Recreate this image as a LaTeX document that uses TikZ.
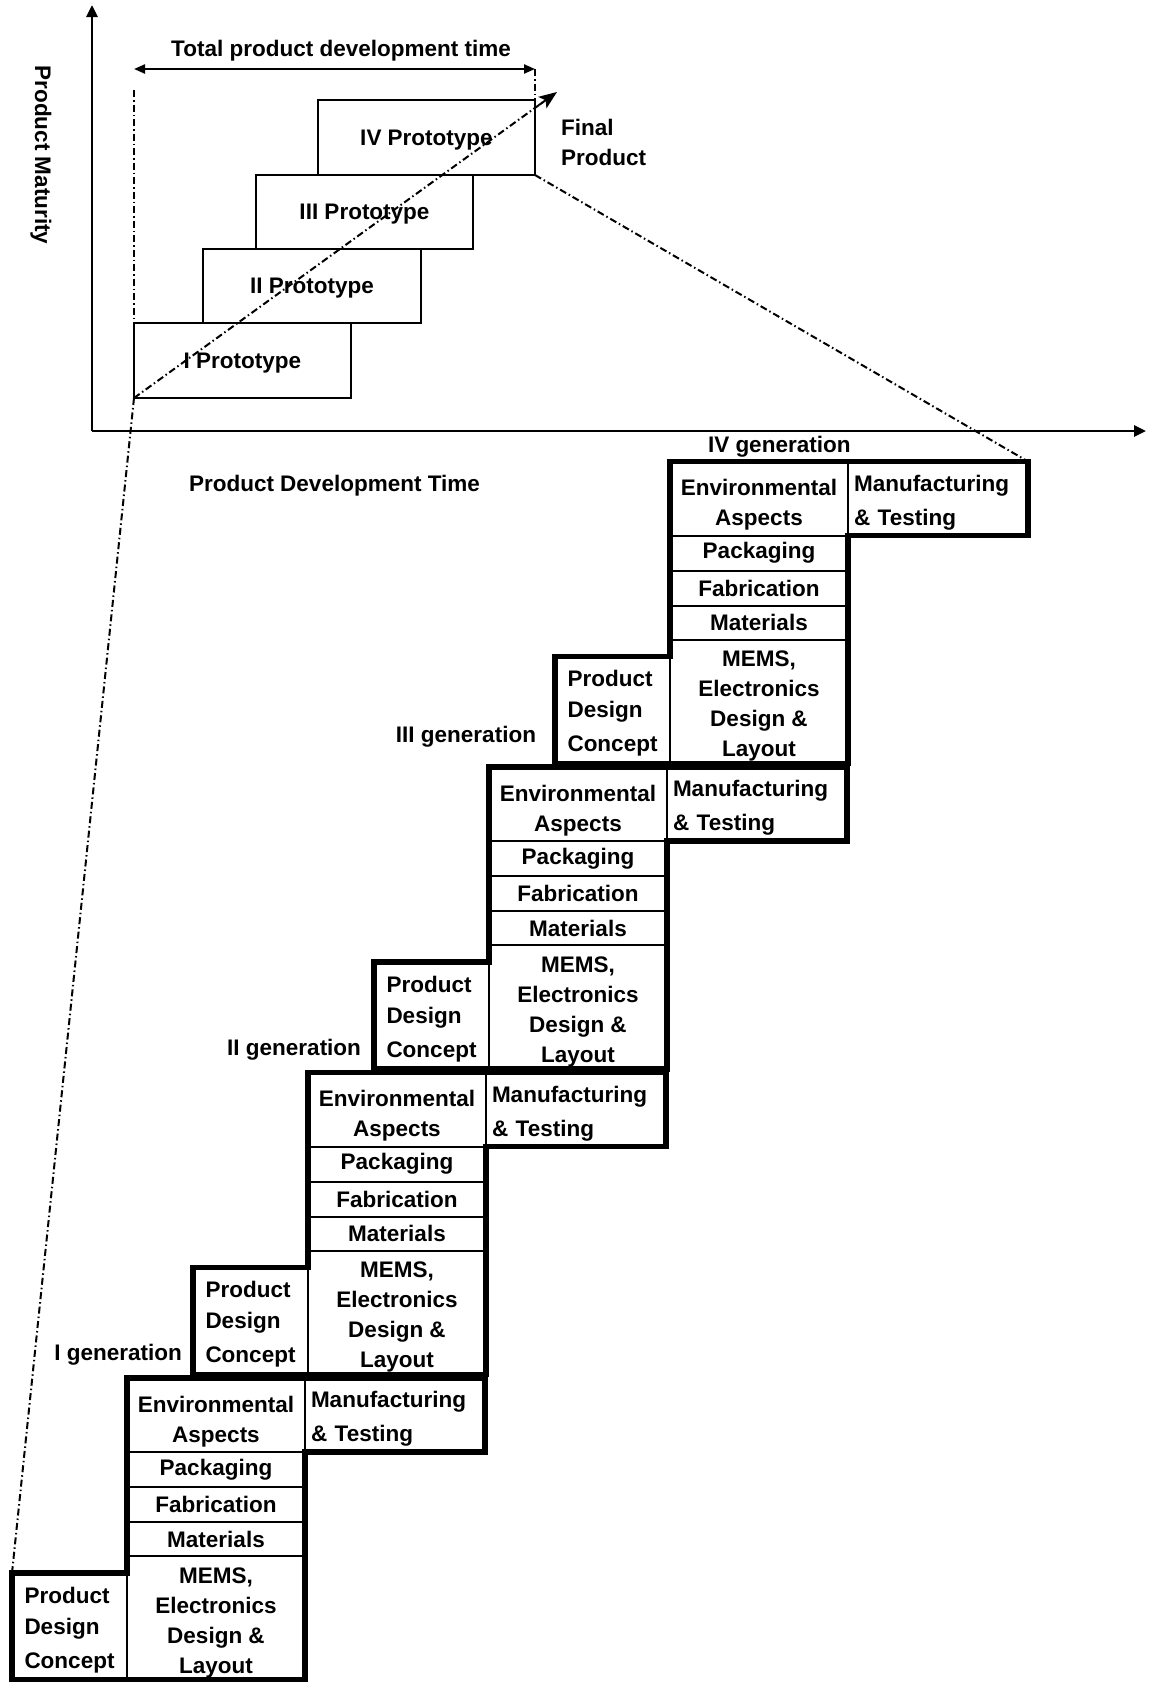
\documentclass[tikz,border=0pt]{standalone}
\usepackage{fontspec}
\setmainfont{Liberation Sans}
\usetikzlibrary{arrows.meta,calc}
% invisible struts used to nudge multi-line cell text up or down
\newcommand{\topstrutx}[1]{\rule{0pt}{#1}}
\newcommand{\botstrutx}[1]{\rule[-#1]{0pt}{#1}}

\begin{document}
\begin{tikzpicture}[x=1pt,y=-1pt,
  every node/.style={inner sep=0pt, outer sep=0pt, font=\fontsize{22.5}{27}\selectfont\bfseries},
  cell/.style={draw, line width=2pt, rectangle, anchor=north west, minimum width=178pt, align=center},
  envcell/.style={cell, minimum height=74pt, font=\fontsize{22.5}{30}\selectfont\bfseries},
  mfgcell/.style={cell, minimum width=180pt, minimum height=74pt, align=left, text width=168pt,
    inner xsep=6pt, font=\fontsize{22.5}{34}\selectfont\bfseries},
  memscell/.style={cell, minimum height=124pt, font=\fontsize{22.5}{30}\selectfont\bfseries},
  pdccell/.style={cell, anchor=north east, minimum width=115pt, minimum height=107pt, align=left,
    font=\fontsize{22.5}{31}\selectfont\bfseries},
  outline/.style={line width=5.5pt, line join=miter},
  proto/.style={draw, line width=2.5pt, rectangle, anchor=north west, text depth=0pt},
  axis/.style={line width=2.8pt},
  dashdot/.style={line width=2pt, dash pattern=on 7pt off 3pt on 1.5pt off 3pt},
  genlabel/.style={}
]
\useasboundingbox (0,0) rectangle (1152,1682);
\fill[white] (0,0) rectangle (1152,1682);

% ---------- staircase of development generations ----------
\foreach \k in {0,1,2,3}{
  \pgfmathsetmacro{\xc}{127+181*\k}
  \pgfmathsetmacro{\yt}{1378-305.5*\k}
  \node[envcell] (env\k) at (\xc,\yt) {\topstrutx{28.7pt}Environmental\\Aspects};
  \node[cell, minimum height=35pt] (pack\k) at (\xc,\yt+74) {Packaging};
  \node[cell, minimum height=35pt] (fab\k) at (\xc,\yt+109) {Fabrication};
  \node[cell, minimum height=34pt] (mat\k) at (\xc,\yt+144) {Materials};
  \node[memscell] (mems\k) at (\xc,\yt+178) {\topstrutx{24.7pt}MEMS,\\Electronics\\Design \&\\Layout};
  \node[mfgcell] (mfg\k) at (\xc+178,\yt) {\topstrutx{24.7pt}Manufacturing\\\& Testing};
  \node[pdccell] (pdc\k) at (\xc,\yt+195) {\topstrutx{22.7pt}Product\\Design\\[3pt]Concept};
  \draw[outline] (pdc\k.south west) -- (pdc\k.north west) -- (pdc\k.north east)
    -- (env\k.north west) -- (mfg\k.north east) -- (mfg\k.south east)
    -- (mfg\k.south west) -- (mems\k.south east) -- cycle;
}

\node[genlabel, anchor=base east] (gen1) at ([xshift=-11pt,yshift=14.5pt]pdc1.south west) {I generation};
\node[genlabel, anchor=base east] (gen2) at ([xshift=-13pt,yshift=14pt]pdc2.south west) {II generation};
\node[genlabel, anchor=base east] (gen3) at ([xshift=-19pt,yshift=21.5pt]pdc3.south west) {III generation};
\node[genlabel, anchor=base west] (gen4) at ([xshift=38pt,yshift=9.5pt]env3.north west) {IV generation};

% ---------- maturity / time chart ----------
\coordinate (O) at (92,431);
\coordinate (ytip) at (92,5);
\coordinate (xtip) at (1146,431);
\draw[axis, -{Triangle[length=12pt,width=11pt]}] (O) -- (ytip);
\draw[axis, -{Triangle[length=12pt,width=11pt]}] (O) -- (xtip);

\node[rotate=-90] (ylab) at (41,155) {Product Maturity};
\node[anchor=base] (ttl) at (341,56) {Total product development time};
\node[anchor=base west] (xlab) at (189,491) {Product Development Time};

\coordinate (tl) at (134,69);
\coordinate (tr) at (535,69);
\draw[line width=2.2pt, {Triangle[length=11pt,width=9pt]}-{Triangle[length=11pt,width=9pt]}] (tl) -- (tr);

\node[proto, minimum width=217pt, minimum height=75pt] (p1) at (134,323) {I Prototype};
\node[proto, minimum width=218pt, minimum height=74pt] (p2) at (203,249) {II Prototype};
\node[proto, minimum width=217pt, minimum height=74pt] (p3) at (256,175) {III Prototype};
\node[proto, minimum width=217pt, minimum height=75pt] (p4) at (318,100) {IV Prototype};

\node[anchor=west, align=left, font=\fontsize{22.5}{30}\selectfont\bfseries] (final) at (561,142) {Final\\Product};

\coordinate (lt) at (134,90);
\coordinate (arrtip) at (557,92);
\draw[dashdot] (lt) -- (p1.north west);
\draw[dashdot] (tr) -- (p4.north east);
% maturity trend: dash-dot shaft with a solid head at the final product
\draw[dashdot] (p1.south west) -- ($(arrtip)!18pt!(p1.south west)$);
\draw[line width=2pt, -{Stealth[length=18pt,width=14pt,inset=4pt]}]
  ($(arrtip)!22pt!(p1.south west)$) -- (arrtip);
\draw[dashdot] (p1.south west) -- (pdc0.north west);
\draw[dashdot] (p4.south east) -- (mfg3.north east);
\end{tikzpicture}
\end{document}
